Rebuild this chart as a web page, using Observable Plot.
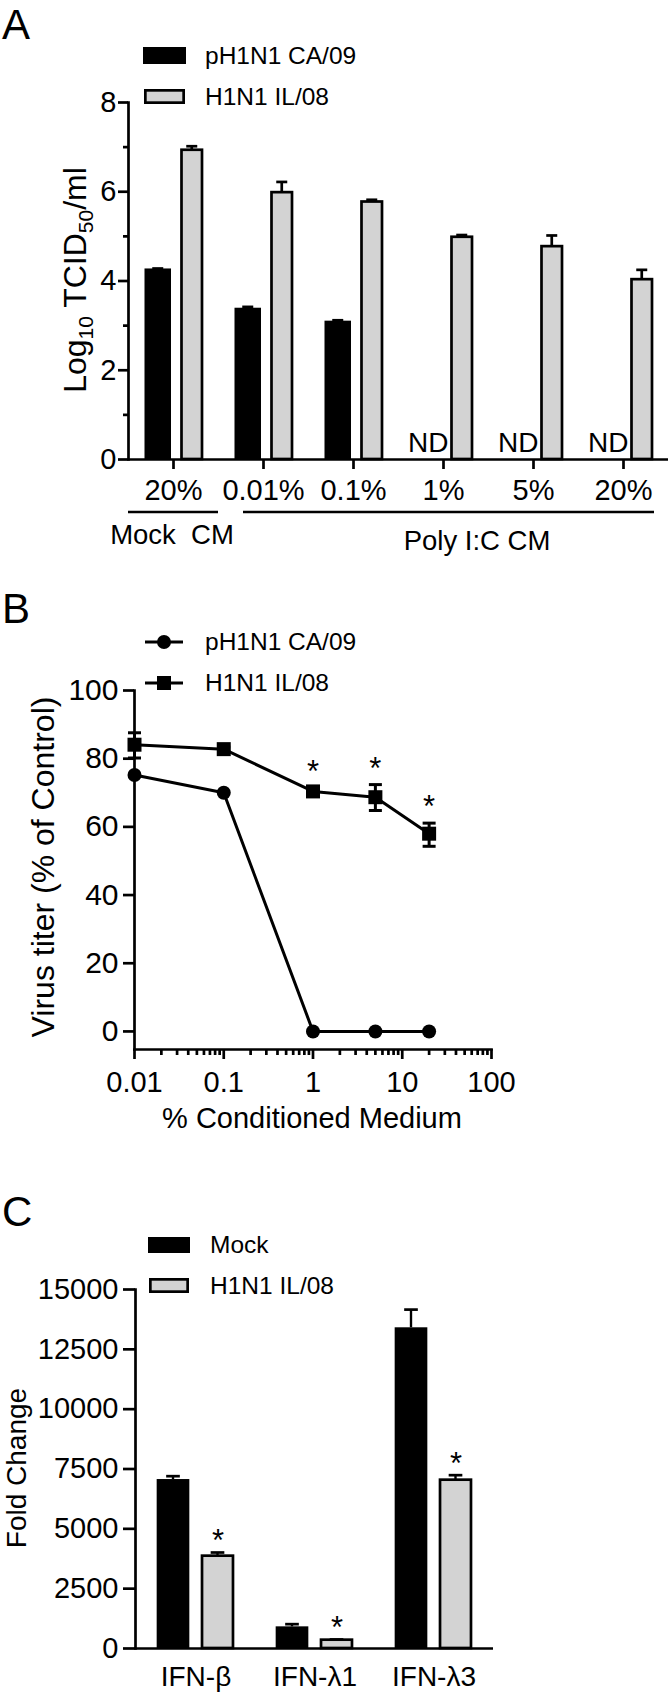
<!DOCTYPE html>
<html><head><meta charset="utf-8">
<script src="https://cdn.jsdelivr.net/npm/d3@7"></script>
<script src="https://cdn.jsdelivr.net/npm/@observablehq/plot@0.6"></script>
<style>
body{margin:0;background:#fff}
#wrap{position:relative;width:670px;height:1698px;font-family:"Liberation Sans",Arial,sans-serif;overflow:hidden}
#overlay{position:absolute;left:0;top:0}
</style></head><body><div id="wrap"></div>
<script>
// ---------- DATA ----------
// Panel A
const groupsA = ["Mock 20%", "0.01%", "0.1%", "1%", "5%", "20%"];
const groupLabelsA = ["20%", "0.01%", "0.1%", "1%", "5%", "20%"];
const ca09A = [4.27, 3.39, 3.10, null, null, null];
const ca09AHi = [4.28, 3.42, 3.12, null, null, null];
const il08A = [6.93, 5.98, 5.77, 4.98, 4.77, 4.03];
const il08AHi = [7.02, 6.22, 5.82, 5.03, 5.02, 4.25];
// Panel B
const xB = [0.01, 0.1, 1, 5, 20];
const ca09B = [75.2, 70.0, 0, 0, 0];
const il08B = [84.1, 82.8, 70.4, 68.7, 58.0];
const il08BHi = [87.6, 83.4, 71.4, 72.4, 61.1];
const il08BLo = [80.2, 82.2, 69.4, 64.8, 54.3];
const starXB = [1, 5, 20];
const tickValsB = [0.01, 0.1, 1, 10, 100];
const tickLabelsB = ["0.01", "0.1", "1", "10", "100"];
// Panel C
const genesC = ["IFN-β", "IFN-λ1", "IFN-λ3"];
const mockC = [7060, 905, 13400];
const mockCHi = [7200, 1017, 14160];
const il08C = [3858, 348, 7033];
const il08CHi = [4011, 376, 7242];

// ---------- helpers ----------
const FONT = '"Liberation Sans", Arial, sans-serif';
const SW = 2.7;
function ins(center, w, bw) { return {insetLeft: bw / 2 + center - w / 2, insetRight: bw / 2 - center - w / 2}; }
function baseStyle(top) {
  return {position: "absolute", left: "0px", top: top + "px", background: "transparent", fontFamily: FONT, overflow: "visible", maxWidth: "none"};
}
const wrap = document.getElementById("wrap");

// ---------- Panel A ----------
const rowsA = groupsA.map((g, i) => ({g, ca: ca09A[i], caHi: ca09AHi[i], il: il08A[i], ilHi: il08AHi[i]}));
const rowsCA = rowsA.filter(d => d.ca != null);
const rowsND = rowsA.filter(d => d.ca == null);
const bwA = (668 - 128) / 6;
const plotA = Plot.plot({
  width: 670, height: 440, marginTop: 22, marginBottom: 61, marginLeft: 128, marginRight: 2,
  style: baseStyle(80),
  x: {type: "band", domain: groupsA, padding: 0},
  y: {domain: [0, 8]},
  marks: [
    Plot.barY(rowsCA, {x: "g", y1: "ca", y2: "caHi", fill: "black", ...ins(-15.25, SW, bwA)}),
    Plot.tickY(rowsCA, {x: "g", y: "caHi", stroke: "black", strokeWidth: SW, ...ins(-15.25, 11, bwA)}),
    Plot.barY(rowsA, {x: "g", y1: "il", y2: "ilHi", fill: "black", ...ins(18.75, SW, bwA)}),
    Plot.tickY(rowsA, {x: "g", y: "ilHi", stroke: "black", strokeWidth: SW, ...ins(18.75, 11, bwA)}),
    Plot.barY(rowsCA, {x: "g", y: "ca", fill: "black", ...ins(-15.25, 26.5, bwA)}),
    Plot.barY(rowsA, {x: "g", y: "il", fill: "#d3d3d3", stroke: "black", strokeWidth: SW, ...ins(18.75, 20.5, bwA)}),
    Plot.text(rowsND, {x: "g", y: d => 0, text: d => "ND", dx: -15.25, dy: -8, lineAnchor: "bottom", fontSize: 28}),
    Plot.ruleY([0], {strokeWidth: SW}),
    Plot.frame({anchor: "left", strokeWidth: SW}),
    Plot.axisY({ticks: [0, 2, 4, 6, 8], tickSize: 10, tickPadding: 2, fontSize: 29, strokeWidth: SW, label: null}),
    Plot.axisY({ticks: [1, 3, 5, 7], tickSize: 5, tickFormat: () => "", strokeWidth: SW, label: null}),
    Plot.axisX({tickSize: 10, tickPadding: 10, fontSize: 29, strokeWidth: SW, label: null,
      tickFormat: d => groupLabelsA[groupsA.indexOf(d)]})
  ]
});
wrap.appendChild(plotA);

// ---------- Panel B ----------
const rowsB = xB.map((x, i) => ({x, ca: ca09B[i], il: il08B[i], hi: il08BHi[i], lo: il08BLo[i]}));
const starsB = rowsB.filter(d => starXB.includes(d.x));
const minorB = [];
for (const dec of [0.01, 0.1, 1, 10]) for (let k = 2; k <= 9; k++) minorB.push(+(dec * k).toPrecision(3));
const capSym = {draw(ctx) { ctx.rect(-6.5, -1.5, 13, 3); }};
const plotB = Plot.plot({
  width: 670, height: 440, marginTop: 20, marginBottom: 61, marginLeft: 134, marginRight: 179,
  style: baseStyle(670),
  x: {type: "log", domain: [0.01, 100]},
  y: {domain: [-5.3, 100]},
  marks: [
    Plot.line(rowsB, {x: "x", y: "ca", stroke: "black", strokeWidth: 3}),
    Plot.line(rowsB, {x: "x", y: "il", stroke: "black", strokeWidth: 3}),
    Plot.ruleX(rowsB, {x: "x", y1: "lo", y2: "hi", stroke: "black", strokeWidth: 3}),
    Plot.dot(rowsB, {x: "x", y: "hi", symbol: capSym, r: 5, fill: "black", stroke: "none"}),
    Plot.dot(rowsB, {x: "x", y: "lo", symbol: capSym, r: 5, fill: "black", stroke: "none"}),
    Plot.dot(rowsB, {x: "x", y: "ca", symbol: "circle", r: 7, fill: "black", stroke: "none"}),
    Plot.dot(rowsB, {x: "x", y: "il", symbol: "square", r: 7.9, fill: "black", stroke: "none"}),
    Plot.text(starsB, {x: "x", y: "hi", text: d => "*", dy: -16, fontSize: 31}),
    Plot.frame({anchor: "left", strokeWidth: SW}),
    Plot.frame({anchor: "bottom", strokeWidth: SW}),
    Plot.axisY({ticks: [0, 20, 40, 60, 80, 100], tickSize: 11, tickPadding: 5, fontSize: 30, strokeWidth: SW, label: null}),
    Plot.axisX({ticks: tickValsB, tickSize: 10, tickPadding: 12, fontSize: 29, strokeWidth: SW, label: null,
      tickFormat: d => tickLabelsB[tickValsB.indexOf(d)]}),
    Plot.axisX({ticks: minorB, tickSize: 6, tickFormat: () => "", strokeWidth: SW, label: null})
  ]
});
wrap.appendChild(plotB);

// ---------- Panel C ----------
const rowsC = genesC.map((g, i) => ({g, mock: mockC[i], mockHi: mockCHi[i], il: il08C[i], ilHi: il08CHi[i]}));
const bwC = (493 - 135) / 3;
const plotC = Plot.plot({
  width: 670, height: 428, marginTop: 19, marginBottom: 50, marginLeft: 135, marginRight: 177,
  style: baseStyle(1270),
  x: {type: "band", domain: genesC, padding: 0},
  y: {domain: [0, 15000]},
  marks: [
    Plot.barY(rowsC, {x: "g", y1: "mock", y2: "mockHi", fill: "black", ...ins(-22.5, SW, bwC)}),
    Plot.tickY(rowsC, {x: "g", y: "mockHi", stroke: "black", strokeWidth: SW, ...ins(-22.5, 14, bwC)}),
    Plot.barY(rowsC, {x: "g", y1: "il", y2: "ilHi", fill: "black", ...ins(22, SW, bwC)}),
    Plot.tickY(rowsC, {x: "g", y: "ilHi", stroke: "black", strokeWidth: SW, ...ins(22, 14, bwC)}),
    Plot.barY(rowsC, {x: "g", y: "mock", fill: "black", ...ins(-22.5, 33, bwC)}),
    Plot.barY(rowsC, {x: "g", y: "il", fill: "#d3d3d3", stroke: "black", strokeWidth: SW, ...ins(22, 31.3, bwC)}),
    Plot.text(rowsC, {x: "g", y: "ilHi", text: d => "*", dx: 22, dy: -11, fontSize: 31}),
    Plot.ruleY([0], {strokeWidth: SW}),
    Plot.frame({anchor: "left", strokeWidth: SW}),
    Plot.axisY({ticks: [0, 2500, 5000, 7500, 10000, 12500, 15000], tickFormat: d => String(d), tickSize: 12, tickPadding: 5, fontSize: 29, strokeWidth: SW, label: null}),
    Plot.axisX({tickSize: 0, tickPadding: 18, fontSize: 28, label: null})
  ]
});
wrap.appendChild(plotC);

// ---------- overlay: panel letters, legends, axis titles, brackets ----------
const ov = d3.select(wrap).append("svg").attr("id", "overlay").attr("width", 670).attr("height", 1698)
  .style("font-family", FONT);
function txt(x, y, s, size, anchor = "start") {
  return ov.append("text").attr("x", x).attr("y", y).attr("font-size", size).attr("text-anchor", anchor).attr("fill", "black").text(s);
}
// panel letters
txt(2, 39, "A", 42); txt(2, 623, "B", 42); txt(2, 1226, "C", 42);

// legend A
ov.append("rect").attr("x", 143).attr("y", 47).attr("width", 43).attr("height", 17).attr("fill", "black");
ov.append("rect").attr("x", 145.35).attr("y", 90.35).attr("width", 38.3).attr("height", 12.3).attr("fill", "#d3d3d3").attr("stroke", "black").attr("stroke-width", SW);
txt(205, 64, "pH1N1 CA/09", 24.5); txt(205, 105, "H1N1 IL/08", 24.5);

// legend B
ov.append("line").attr("x1", 145).attr("x2", 183).attr("y1", 642).attr("y2", 642).attr("stroke", "black").attr("stroke-width", 3);
ov.append("circle").attr("cx", 164).attr("cy", 642).attr("r", 7).attr("fill", "black");
ov.append("line").attr("x1", 145).attr("x2", 183).attr("y1", 683).attr("y2", 683).attr("stroke", "black").attr("stroke-width", 3);
ov.append("rect").attr("x", 157).attr("y", 676).attr("width", 14).attr("height", 14).attr("fill", "black");
txt(205, 650, "pH1N1 CA/09", 24.5); txt(205, 691, "H1N1 IL/08", 24.5);

// legend C
ov.append("rect").attr("x", 148).attr("y", 1237).attr("width", 42).attr("height", 16).attr("fill", "black");
ov.append("rect").attr("x", 150.35).attr("y", 1279.35).attr("width", 37.3).attr("height", 12.3).attr("fill", "#d3d3d3").attr("stroke", "black").attr("stroke-width", SW);
txt(210, 1253, "Mock", 24.5); txt(210, 1294, "H1N1 IL/08", 24.5);

// y-axis titles
const tA = ov.append("text").attr("transform", "translate(86,280) rotate(-90)").attr("text-anchor", "middle").attr("font-size", 32);
tA.append("tspan").text("Log");
tA.append("tspan").attr("font-size", 21).attr("dy", 7).text("10");
tA.append("tspan").attr("dy", -7).text(" TCID");
tA.append("tspan").attr("font-size", 21).attr("dy", 7).text("50");
tA.append("tspan").attr("dy", -7).text("/ml");
ov.append("text").attr("transform", "translate(54,867) rotate(-90)").attr("text-anchor", "middle").attr("font-size", 32).text("Virus titer (% of Control)");
ov.append("text").attr("transform", "translate(26,1468) rotate(-90)").attr("text-anchor", "middle").attr("font-size", 28).text("Fold Change");

// brackets panel A
ov.append("line").attr("x1", 128).attr("x2", 218).attr("y1", 512).attr("y2", 512).attr("stroke", "black").attr("stroke-width", SW);
ov.append("line").attr("x1", 243).attr("x2", 654).attr("y1", 512).attr("y2", 512).attr("stroke", "black").attr("stroke-width", SW);
txt(172, 544, "Mock\u00a0\u00a0CM", 27.5, "middle");
txt(477, 550, "Poly I:C CM", 27.5, "middle");

// x title panel B
txt(312, 1128, "% Conditioned Medium", 29, "middle");
</script></body></html>
